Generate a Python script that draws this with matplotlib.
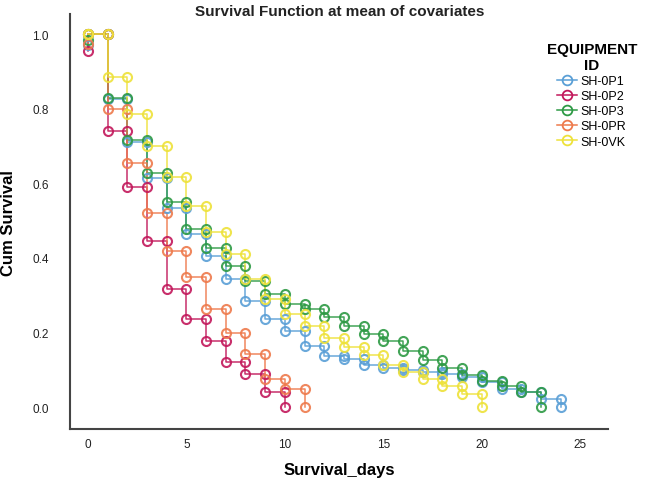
import matplotlib
matplotlib.use("Agg")
import matplotlib.pyplot as plt
from matplotlib.lines import Line2D

plt.rcParams['font.family'] = ['Liberation Sans', 'DejaVu Sans']

# equipment groups, value at t=0 and survival after each daily drop (t = 1, 2, ...)
groups = ["SH-0P1", "SH-0P2", "SH-0P3", "SH-0PR", "SH-0VK"]
colors = ["#5a9fd6", "#c2185b", "#2e9a45", "#ee7a4c", "#eee23a"]

start_p1 = 0.97
surv_p1 = [0.825, 0.71, 0.615, 0.535, 0.465, 0.405, 0.343, 0.284, 0.236, 0.204,
           0.164, 0.137, 0.13, 0.112, 0.105, 0.10, 0.095, 0.088, 0.08, 0.068,
           0.05, 0.04, 0.022, 0.0]
start_p2 = 0.955
surv_p2 = [0.74, 0.59, 0.445, 0.316, 0.236, 0.177, 0.12, 0.088, 0.04, 0.0]
start_p3 = 0.985
surv_p3 = [0.83, 0.715, 0.627, 0.55, 0.477, 0.428, 0.378, 0.338, 0.303, 0.276,
           0.263, 0.241, 0.217, 0.196, 0.177, 0.15, 0.127, 0.105, 0.085, 0.07,
           0.056, 0.04, 0.0]
start_pr = 0.975
surv_pr = [0.80, 0.655, 0.52, 0.418, 0.348, 0.263, 0.20, 0.142, 0.075, 0.05, 0.0]
start_vk = 1.0
surv_vk = [0.885, 0.785, 0.70, 0.617, 0.54, 0.47, 0.41, 0.343, 0.29, 0.25,
           0.217, 0.185, 0.162, 0.14, 0.112, 0.094, 0.075, 0.056, 0.035, 0.0]

starts = [start_p1, start_p2, start_p3, start_pr, start_vk]
curves = [surv_p1, surv_p2, surv_p3, surv_pr, surv_vk]

fig = plt.figure(figsize=(6.53, 4.85), dpi=100)
ax = fig.add_axes([0.107, 0.113, 0.824, 0.856])

for name, col, s0, vals in zip(groups, colors, starts, curves):
    x = list(range(len(vals) + 1))
    y = [1.0] + vals
    ax.step(x, y, where='post', color=col, lw=1.1, alpha=0.9, zorder=2)
    ax.plot([0, 0], [1.0, s0], color=col, lw=1.1, alpha=0.9, zorder=2)
    mx = [0, 0]
    my = [1.0, s0]
    for i in range(1, len(y)):
        mx += [x[i], x[i]]
        my += [y[i - 1], y[i]]
    ax.plot(mx, my, ls='none', marker='o', ms=6.5, mfc='none', mec=col,
            mew=1.5, alpha=0.9, zorder=3)

ax.set_xlim(-0.91, 26.4)
ax.set_ylim(-0.059, 1.054)
ax.set_xticks([0, 5, 10, 15, 20, 25])
ax.set_yticks([0.0, 0.2, 0.4, 0.6, 0.8, 1.0])
ax.set_yticklabels(["0.0", "0.2", "0.4", "0.6", "0.8", "1.0"])
ax.tick_params(length=0, labelsize=8.5, colors='#222222')
ax.tick_params(axis='x', pad=6)
ax.tick_params(axis='y', pad=15)
for side in ['top', 'right']:
    ax.spines[side].set_visible(False)
for side in ['left', 'bottom']:
    ax.spines[side].set_color('#444444')
    ax.spines[side].set_linewidth(1.5)

ax.set_xlabel("Survival_days", fontsize=12, fontweight='bold', labelpad=9)
ax.set_ylabel("Cum Survival", fontsize=12, fontweight='bold', labelpad=12)
fig.text(0.52, 0.975, "Survival Function at mean of covariates", ha='center',
         va='center', fontsize=11, fontweight='bold', color='#222222')

handles = [Line2D([0], [0], color=c, lw=1.1, marker='o', ms=7, mfc='none',
                  mec=c, mew=1.3) for c in colors]
leg = fig.legend(handles, groups, loc='upper left', bbox_to_anchor=(0.82, 0.935),
                 frameon=False, fontsize=9, handlelength=1.6, handletextpad=0.3,
                 labelspacing=0.25, title="EQUIPMENT\nID",
                 title_fontproperties={'weight': 'bold', 'size': 11})
leg.get_title().set_multialignment('center')

fig.savefig("out.png", dpi=100)
